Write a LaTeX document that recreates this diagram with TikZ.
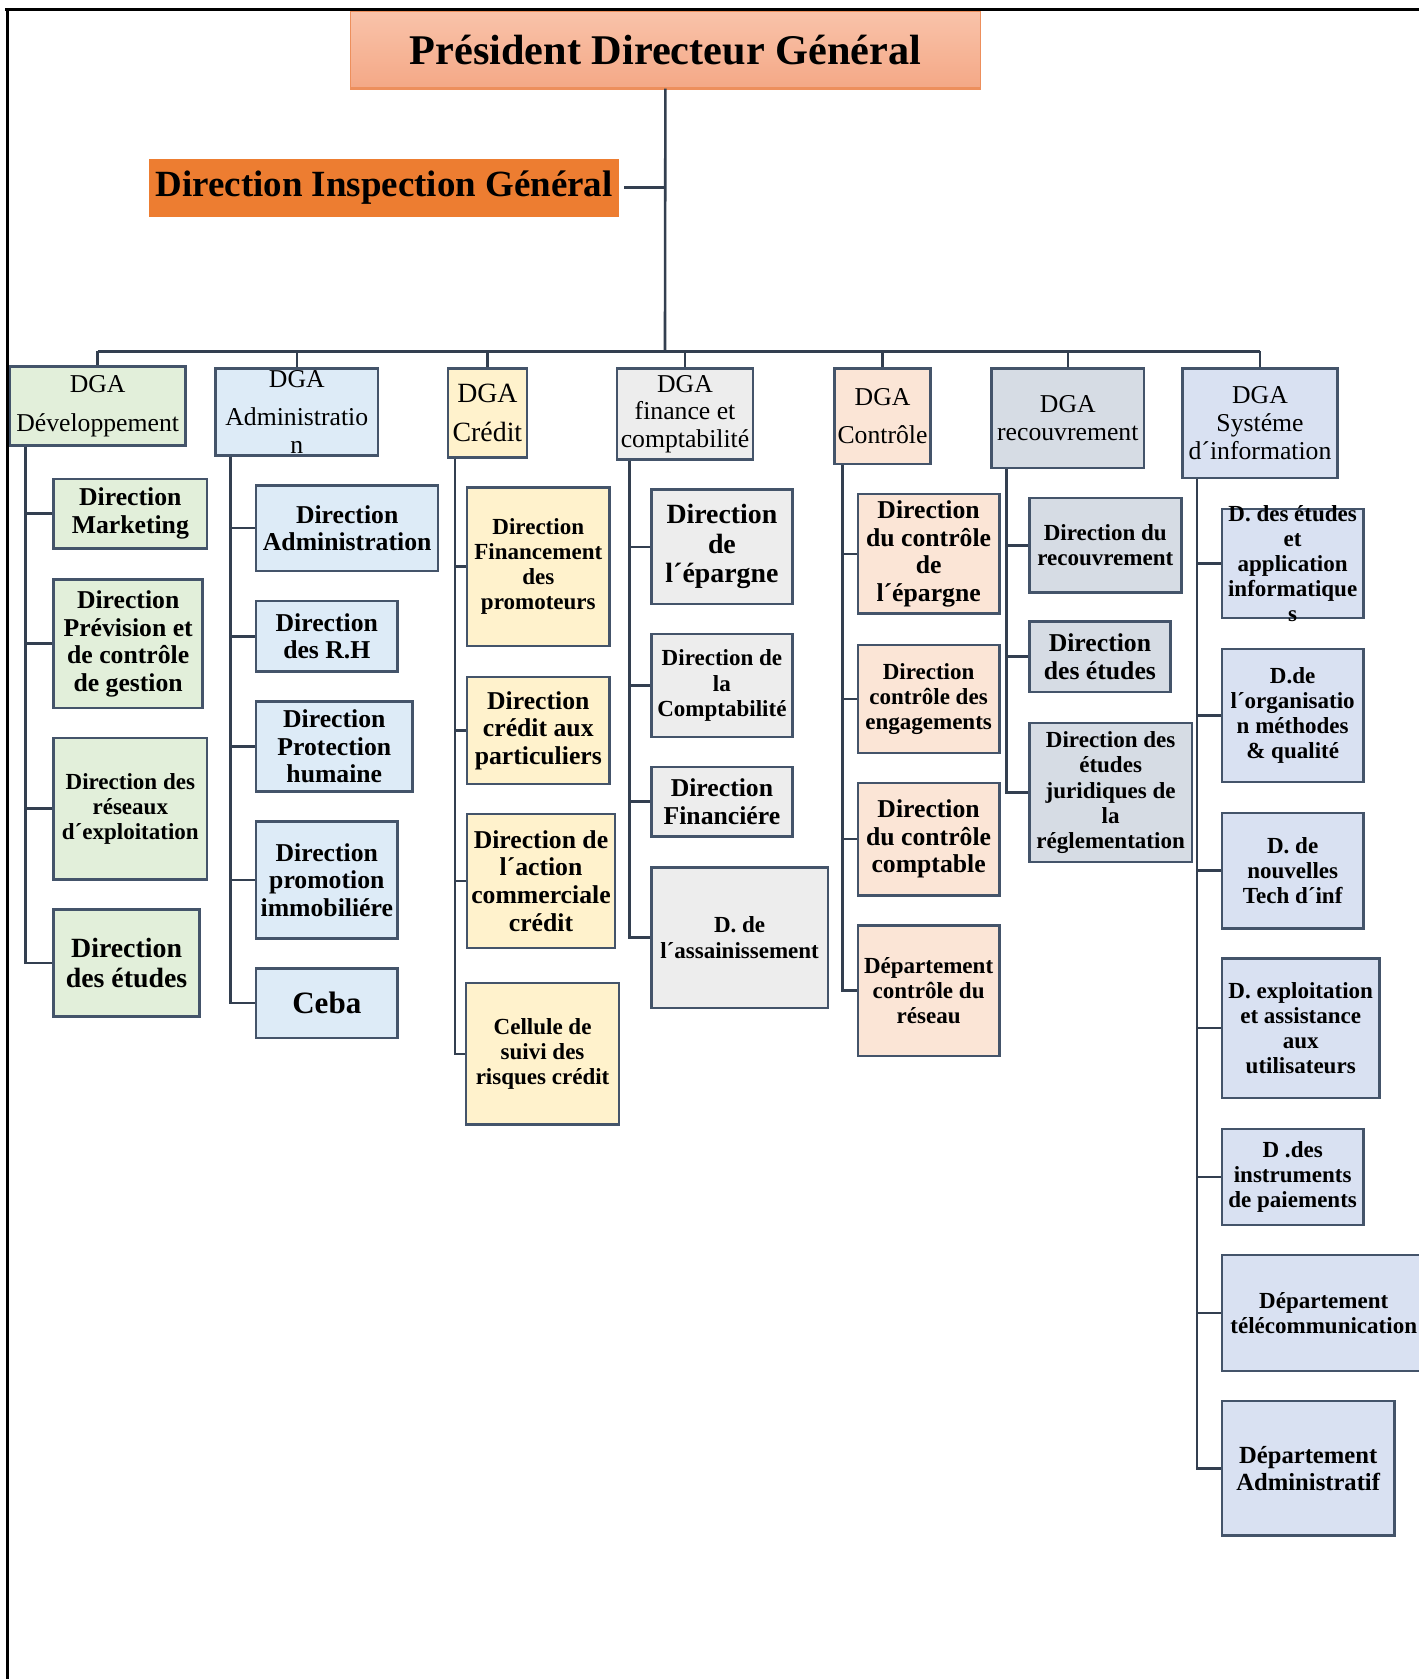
\documentclass[tikz,border=0pt]{standalone}
\usepackage{fontspec}
\setmainfont{Liberation Serif}
\definecolor{lineslate}{HTML}{44546A}
\definecolor{connslate}{HTML}{333F50}
\definecolor{pdgtop}{HTML}{F9C3AA}
\definecolor{pdgbot}{HTML}{F4A886}
\definecolor{pdgline}{HTML}{ED8F5C}
\definecolor{digfill}{HTML}{ED7D31}
\definecolor{devfill}{HTML}{E2EFDA}
\definecolor{admfill}{HTML}{DDEBF7}
\definecolor{crefill}{HTML}{FFF2CC}
\definecolor{finfill}{HTML}{EDEDED}
\definecolor{ctlfill}{HTML}{FBE5D6}
\definecolor{recfill}{HTML}{D6DCE4}
\definecolor{sifill}{HTML}{D9E1F2}

\begin{document}
\begin{tikzpicture}[x=1pt, y=-1pt,
  box/.style={draw=lineslate, line width=2.4pt, inner sep=0pt, align=center, anchor=north west},
  dga/.style={box, font=\fontsize{24}{26}\selectfont},
  unit/.style={box, font=\bfseries\fontsize{24}{25.8}\selectfont},
  smalltxt/.style={font=\bfseries\fontsize{21.5}{23.5}\selectfont},
  bigtxt/.style={font=\bfseries\fontsize{26}{27.5}\selectfont},
  conn/.style={draw=connslate, line width=2.4pt},
  frame/.style={draw=black, line width=3pt},
  devc/.style={fill=devfill}, admc/.style={fill=admfill}, crec/.style={fill=crefill},
  finc/.style={fill=finfill}, ctlc/.style={fill=ctlfill}, recc/.style={fill=recfill},
  sic/.style={fill=sifill}]
  \useasboundingbox (0,0) rectangle (1325,1568);
  \draw[frame] (5,8.8) -- (1325,8.8);
  \draw[frame] (6.8,8.8) -- (6.8,1568);
  %  -- - top  -- -
  \node[anchor=north west, inner sep=0pt, minimum width=588, minimum height=72,
        top color=pdgtop, bottom color=pdgbot, draw=pdgline, line width=0.8pt,
        font=\bfseries\fontsize{39.5}{41}\selectfont] (pdg) at (327,10) {Président Directeur Général};
  \draw[pdgline, line width=3pt] (pdg.south west) -- (pdg.south east);
  \node[anchor=north west, inner sep=0pt, minimum width=439, minimum height=54, fill=digfill,
        font=\bfseries\fontsize{34.5}{36}\selectfont] (dig) at (139,148) {Direction Inspection Général};
  \coordinate (bus) at (621,328);
  \draw[conn] (pdg.south) -- (bus);
  \draw[conn, shorten <=4.5pt] (dig.east) -- (dig.east -| pdg.south);
  %  -- - DGA row  -- -
  \node[dga, devc, minimum width=164, minimum height=74] (dev) at (8,341) {DGA\\[10pt]Développement};
  \node[dga, admc, minimum width=152, minimum height=81] (adm) at (200,343) {DGA\\[9pt]Administratio\\n};
  \node[dga, crec, minimum width=74, minimum height=83, font=\fontsize{26}{27}\selectfont] (cre) at (417,343) {DGA\\[10pt]Crédit};
  \node[dga, finc, minimum width=127, minimum height=85] (fin) at (575,343) {DGA\\finance et\\comptabilité};
  \node[dga, ctlc, minimum width=90, minimum height=89] (ctl) at (778,343) {DGA\\[9pt]Contrôle};
  \node[dga, recc, minimum width=142, minimum height=93] (rec) at (925,343) {DGA\\recouvrement};
  \node[dga, sic, minimum width=145, minimum height=102] (si) at (1103,343) {DGA\\Systéme\\d´information};
  \draw[conn] (dev.north |- bus) -- (si.north |- bus);
  \foreach \g in {dev,adm,cre,fin,ctl,rec,si}
    \draw[conn] (\g.north |- bus) -- (\g.north);
  %  -- - DGA Développement  -- -
  \node[unit, devc, minimum width=143, minimum height=65] (dmk) at (49,446) {Direction\\Marketing};
  \node[unit, devc, minimum width=139, minimum height=120] (dpc) at (49,540) {Direction\\Prévision et\\de contrôle\\de gestion};
  \node[unit, devc, smalltxt, minimum width=143, minimum height=132] (dre) at (49,688) {Direction des\\réseaux\\d´exploitation};
  \node[unit, devc, bigtxt, minimum width=136, minimum height=100] (det) at (49,848) {Direction\\des études};
  \foreach \c in {dmk,dpc,dre,det}
    \draw[conn] ([xshift=16]dev.south west) |- (\c.west);
  %  -- - DGA Administration  -- -
  \node[unit, admc, minimum width=170, minimum height=80] (dad) at (238,452) {Direction\\Administration};
  \node[unit, admc, minimum width=132, minimum height=66] (drh) at (238,560) {Direction\\des R.H};
  \node[unit, admc, minimum width=146, minimum height=84] (dph) at (238,654) {Direction\\Protection\\humaine};
  \node[unit, admc, minimum width=132, minimum height=109] (dpi) at (238,766) {Direction\\promotion\\immobiliére};
  \node[unit, admc, minimum width=132, minimum height=65, font=\bfseries\fontsize{29}{30}\selectfont] (ceba) at (238,903) {Ceba};
  \foreach \c in {dad,drh,dph,dpi,ceba}
    \draw[conn] ([xshift=15]adm.south west) |- (\c.west);
  %  -- - DGA Crédit  -- -
  \node[unit, crec, smalltxt, minimum width=133, minimum height=148] (dfp) at (435,454) {Direction\\Financement\\des\\promoteurs};
  \node[unit, crec, minimum width=133, minimum height=100] (dcp) at (435,631) {Direction\\crédit aux\\particuliers};
  \node[unit, crec, minimum width=138, minimum height=125] (dac) at (435,759) {Direction de\\l´action\\commerciale\\crédit};
  \node[unit, crec, smalltxt, minimum width=143, minimum height=132] (csr) at (434,917) {Cellule de\\suivi des\\risques crédit};
  \foreach \c in {dfp,dcp,dac,csr}
    \draw[conn] ([xshift=8]cre.south west) |- (\c.west);
  %  -- - DGA finance et comptabilité  -- -
  \node[unit, finc, bigtxt, minimum width=132, minimum height=107] (dep) at (607,456) {Direction\\de\\l´épargne};
  \node[unit, finc, smalltxt, minimum width=132, minimum height=96] (dcpt) at (607,591) {Direction de\\la\\Comptabilité};
  \node[unit, finc, minimum width=132, minimum height=65, font=\bfseries\fontsize{24}{27}\selectfont] (dfi) at (607,715) {Direction\\Financiére};
  \node[unit, finc, smalltxt, minimum width=165, minimum height=131] (das) at (607,809) {D. de\\l´assainissement};
  \foreach \c in {dep,dcpt,dfi,das}
    \draw[conn] ([xshift=13]fin.south west) |- (\c.west);
  %  -- - DGA Contrôle  -- -
  \node[unit, ctlc, minimum width=132, minimum height=112] (dce) at (800,460) {Direction\\du contrôle\\de\\l´épargne};
  \node[unit, ctlc, smalltxt, minimum width=132, minimum height=101] (dceng) at (800,601) {Direction\\contrôle des\\engagements};
  \node[unit, ctlc, minimum width=132, minimum height=105] (dcc) at (800,730) {Direction\\du contrôle\\comptable};
  \node[unit, ctlc, smalltxt, minimum width=132, minimum height=122] (dcr) at (800,863) {Département\\contrôle du\\réseau};
  \foreach \c in {dce,dceng,dcc,dcr}
    \draw[conn] ([xshift=9]ctl.south west) |- (\c.west);
  %  -- - DGA recouvrement  -- -
  \node[unit, recc, smalltxt, minimum width=142, minimum height=88] (drc) at (960,464) {Direction du\\recouvrement};
  \node[unit, recc, minimum width=132, minimum height=66] (dde) at (960,579) {Direction\\des études};
  \node[unit, recc, smalltxt, minimum width=152, minimum height=130] (dej) at (960,674) {Direction des\\études\\juridiques de\\la\\réglementation};
  \foreach \c in {drc,dde,dej}
    \draw[conn] ([xshift=15]rec.south west) |- (\c.west);
  %  -- - DGA Système d'information  -- -
  \node[unit, sic, smalltxt, minimum width=132, minimum height=102, inner ysep=-4pt] (dea) at (1140,474) {D. des études\\et\\application\\informatique\\s};
  \node[unit, sic, smalltxt, minimum width=132, minimum height=124] (dom) at (1140,605) {D.de\\l´organisatio\\n méthodes\\\& qualité};
  \node[unit, sic, smalltxt, minimum width=132, minimum height=108] (dnt) at (1140,758) {D. de\\nouvelles\\Tech d´inf};
  \node[unit, sic, smalltxt, minimum width=147, minimum height=130] (dexp) at (1140,894) {D. exploitation\\et assistance\\aux\\utilisateurs};
  \node[unit, sic, smalltxt, minimum width=132, minimum height=90] (dip) at (1140,1053) {D .des\\instruments\\de paiements};
  \node[unit, sic, smalltxt, minimum width=190, minimum height=108] (dtel) at (1140,1171) {Département\\télécommunication};
  \node[unit, sic, minimum width=161, minimum height=126, font=\bfseries\fontsize{23}{25}\selectfont] (dadm) at (1140,1307) {Département\\Administratif};
  \foreach \c in {dea,dom,dnt,dexp,dip,dtel,dadm}
    \draw[conn] ([xshift=15]si.south west) |- (\c.west);
\end{tikzpicture}
\end{document}
